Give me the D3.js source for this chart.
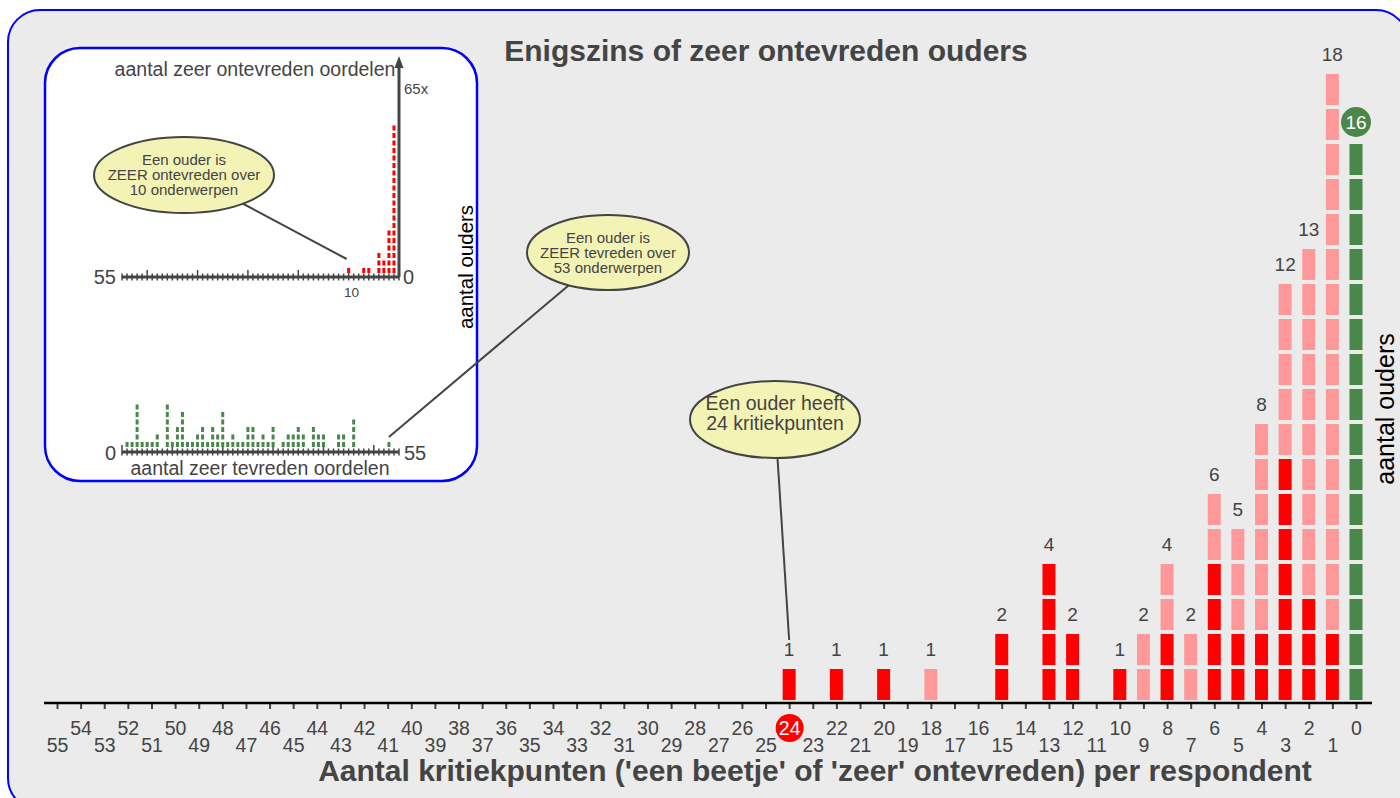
<!DOCTYPE html>
<html>
<head>
<meta charset="utf-8">
<script src="https://cdn.jsdelivr.net/npm/d3@7"></script>
<style>
html, body { margin: 0; padding: 0; background: #fff; }
svg { display: block; font-family: "Liberation Sans", Arial, sans-serif; }
</style>
</head>
<body>
<div id="vis"></div>
<script>
// hoofdgrafiek: aantal kritiekpunten per ouder
var kritiekpunten = [24, 22, 20, 18, 15, 13, 12, 10, 9, 8, 7, 6, 5, 4, 3, 2, 1];
var zeerOntevreden = [1, 1, 1, 0, 2, 4, 2, 1, 0, 2, 0, 4, 2, 2, 7, 3, 2];
var beetjeOntevreden = [0, 0, 0, 1, 0, 0, 0, 0, 2, 2, 2, 2, 3, 6, 5, 10, 16];
var oudersZonderKritiek = 16;
var tickLabels = d3.range(0, 56);

// inzet: zeer ontevreden oordelen (rood)
var zeerOntevredenOordelen = [1, 2, 3, 4, 6, 7, 10];
var oudersOntevreden = [20, 6, 2, 3, 1, 1, 1];
var oudersNulOntevreden = 65;

// inzet: zeer tevreden oordelen (groen), index = aantal oordelen
var oudersZeerTevreden = [0, 1, 1, 6, 1, 1, 1, 2, 0, 6,
                          1, 3, 5, 1, 1, 2, 3, 1, 3, 2,
                          5, 1, 2, 1, 1, 3, 3, 1, 2, 1,
                          3, 0, 1, 2, 2, 3, 2, 0, 3, 2,
                          2, 0, 0, 2, 2, 0, 4, 0, 0, 0,
                          0, 0, 0, 1, 0, 0];

var width = 1400, height = 798;
var RED = '#ff0000', PINK = '#ff9999', GREEN = '#4a874b', TXT = '#444';

var svg = d3.select('#vis').append('svg')
    .attr('width', width)
    .attr('height', height);

svg.append('rect')
    .attr('x', 8).attr('y', 10)
    .attr('width', 1400).attr('height', 800)
    .attr('rx', 32)
    .attr('fill', '#ebebeb')
    .attr('stroke', '#0000ff')
    .attr('stroke-width', 2);

svg.append('text')
    .attr('x', 766).attr('y', 61)
    .attr('text-anchor', 'middle')
    .attr('font-size', 30).attr('font-weight', 'bold')
    .attr('fill', TXT)
    .text('Enigszins of zeer ontevreden ouders');

// ---------- hoofdgrafiek ----------
var x = d3.scaleLinear().domain([55, 0]).range([57, 1356]);
var y = d3.scaleLinear().domain([0, 18]).range([700, 70]);
var barW = 13;

var columns = kritiekpunten.map((v, i) => ({
    v: v,
    total: zeerOntevreden[i] + beetjeOntevreden[i],
    units: d3.range(zeerOntevreden[i] + beetjeOntevreden[i])
        .map(k => ({ v: v, k: k, fill: k < zeerOntevreden[i] ? RED : PINK }))
}));
columns.push({
    v: 0, total: oudersZonderKritiek,
    units: d3.range(oudersZonderKritiek).map(k => ({ v: 0, k: k, fill: GREEN }))
});

var bars = svg.append('g');
bars.selectAll('g')
    .data(columns)
    .enter()
    .append('g')
    .selectAll('rect')
    .data(d => d.units)
    .enter()
    .append('rect')
        .attr('x', d => x(d.v) - barW / 2)
        .attr('y', d => y(d.k + 1) + 4)
        .attr('width', barW)
        .attr('height', d => y(d.k) - y(d.k + 1) - 4)
        .attr('fill', d => d.fill);

bars.selectAll('text.cnt')
    .data(columns.filter(d => d.v !== 0))
    .enter()
    .append('text')
        .attr('class', 'cnt')
        .attr('x', d => x(d.v))
        .attr('y', d => y(d.total) - 9)
        .attr('text-anchor', 'middle')
        .attr('font-size', 19)
        .attr('fill', TXT)
        .text(d => d.total);

svg.append('circle')
    .attr('cx', x(0)).attr('cy', y(oudersZonderKritiek) - 18)
    .attr('r', 15)
    .attr('fill', GREEN);
svg.append('text')
    .attr('x', x(0)).attr('y', y(oudersZonderKritiek) - 11)
    .attr('text-anchor', 'middle')
    .attr('font-size', 19)
    .attr('fill', '#fff')
    .text(oudersZonderKritiek);

// x-as
var axis = svg.append('g')
    .attr('transform', 'translate(0,703)')
    .call(d3.axisBottom(x).tickValues(tickLabels).tickSize(6).tickFormat(d3.format('d')));
axis.select('.domain').remove();
axis.selectAll('.tick line').attr('stroke', TXT).attr('stroke-width', 2);
axis.selectAll('.tick text')
    .attr('y', d => d % 2 === 0 ? 18 : 35)
    .attr('font-size', 19.5)
    .attr('font-family', '"Liberation Sans", Arial, sans-serif')
    .attr('fill', d => d === 24 ? '#fff' : TXT);
axis.selectAll('.tick').filter(d => d === 24)
    .insert('circle', 'text')
    .attr('cx', 0).attr('cy', 25)
    .attr('r', 14)
    .attr('fill', RED);
svg.append('line')
    .attr('x1', 44).attr('x2', 1372)
    .attr('y1', 703).attr('y2', 703)
    .attr('stroke', '#000').attr('stroke-width', 2.5);

svg.append('text')
    .attr('x', 815).attr('y', 781)
    .attr('text-anchor', 'middle')
    .attr('font-size', 30).attr('font-weight', 'bold')
    .attr('fill', TXT)
    .text("Aantal kritiekpunten ('een beetje' of 'zeer' ontevreden) per respondent");

svg.append('text')
    .attr('transform', 'translate(1394,409) rotate(-90)')
    .attr('text-anchor', 'middle')
    .attr('font-size', 25)
    .attr('fill', '#000')
    .text('aantal ouders');

// callout hoofdgrafiek
svg.append('line')
    .attr('x1', 777).attr('y1', 450)
    .attr('x2', x(24)).attr('y2', 640)
    .attr('stroke', TXT).attr('stroke-width', 2);
svg.append('ellipse')
    .attr('cx', 775).attr('cy', 419.5).attr('rx', 85).attr('ry', 38.5)
    .attr('fill', '#f3f3b6').attr('stroke', TXT).attr('stroke-width', 2);
svg.append('text')
    .attr('x', 775).attr('y', 410)
    .attr('text-anchor', 'middle')
    .attr('font-size', 19.5).attr('fill', TXT)
    .selectAll('tspan')
    .data(['Een ouder heeft', '24 kritiekpunten'])
    .enter().append('tspan')
        .attr('x', 775)
        .attr('dy', (d, i) => i ? 19.5 : 0)
        .text(d => d);

// ---------- inzet ----------
var inset = svg.append('g');
inset.append('rect')
    .attr('x', 45).attr('y', 48)
    .attr('width', 432).attr('height', 433)
    .attr('rx', 35)
    .attr('fill', '#fff')
    .attr('stroke', '#0000ff')
    .attr('stroke-width', 2.5);

var xo = d3.scaleLinear().domain([0, 55]).range([399, 122]);
var xt = d3.scaleLinear().domain([0, 55]).range([122, 399]);
var unit = 7.5, dashH = 5, dashW = 3;

function insetAxis(scale, yPos) {
    var g = inset.append('g');
    g.append('line')
        .attr('x1', scale(0)).attr('x2', scale(55))
        .attr('y1', yPos).attr('y2', yPos)
        .attr('stroke', TXT).attr('stroke-width', 3);
    g.selectAll('line.t')
        .data(d3.range(0, 56))
        .enter().append('line')
        .attr('class', 't')
        .attr('x1', d => scale(d)).attr('x2', d => scale(d))
        .attr('y1', d => d % 10 === 0 ? yPos - 7 : yPos - 3.5)
        .attr('y2', yPos + 3.5)
        .attr('stroke', TXT).attr('stroke-width', 1.5);
}
insetAxis(xo, 277);
insetAxis(xt, 452);

// rood
var redUnits = [];
zeerOntevredenOordelen.forEach((v, i) => {
    d3.range(oudersOntevreden[i]).forEach(k => redUnits.push({ v: v, k: k }));
});
inset.selectAll('rect.r')
    .data(redUnits)
    .enter().append('rect')
        .attr('class', 'r')
        .attr('x', d => xo(d.v) - dashW / 2)
        .attr('y', d => 273 - (d.k + 1) * unit + (unit - dashH))
        .attr('width', dashW)
        .attr('height', dashH)
        .attr('fill', RED);

// groen
var greenUnits = [];
oudersZeerTevreden.forEach((n, v) => {
    d3.range(n).forEach(k => greenUnits.push({ v: v, k: k }));
});
inset.selectAll('rect.g')
    .data(greenUnits)
    .enter().append('rect')
        .attr('class', 'g')
        .attr('x', d => xt(d.v) - dashW / 2)
        .attr('y', d => 447 - (d.k + 1) * unit + (unit - dashH))
        .attr('width', dashW)
        .attr('height', dashH)
        .attr('fill', GREEN);

// pijl voor 65x
inset.append('line')
    .attr('x1', xo(0)).attr('x2', xo(0))
    .attr('y1', 277).attr('y2', 64)
    .attr('stroke', TXT).attr('stroke-width', 3);
inset.append('path')
    .attr('d', 'M' + xo(0) + ',56 L' + (xo(0) - 4.5) + ',68 L' + (xo(0) + 4.5) + ',68 Z')
    .attr('fill', TXT);
inset.append('text')
    .attr('x', 404).attr('y', 94)
    .attr('font-size', 15).attr('fill', TXT)
    .text(oudersNulOntevreden + 'x');

inset.append('text')
    .attr('x', 255).attr('y', 76)
    .attr('text-anchor', 'middle')
    .attr('font-size', 19.5).attr('fill', TXT)
    .text('aantal zeer ontevreden oordelen');
inset.append('text')
    .attr('x', 116).attr('y', 284)
    .attr('text-anchor', 'end')
    .attr('font-size', 20).attr('fill', TXT)
    .text('55');
inset.append('text')
    .attr('x', 403).attr('y', 284)
    .attr('font-size', 20).attr('fill', TXT)
    .text('0');
inset.append('text')
    .attr('x', xo(10) + 3).attr('y', 297)
    .attr('text-anchor', 'middle')
    .attr('font-size', 13.5).attr('fill', TXT)
    .text('10');

inset.append('text')
    .attr('x', 116).attr('y', 460)
    .attr('text-anchor', 'end')
    .attr('font-size', 20).attr('fill', TXT)
    .text('0');
inset.append('text')
    .attr('x', 404).attr('y', 460)
    .attr('font-size', 20).attr('fill', TXT)
    .text('55');
inset.append('text')
    .attr('x', 260).attr('y', 475)
    .attr('text-anchor', 'middle')
    .attr('font-size', 19.5).attr('fill', TXT)
    .text('aantal zeer tevreden oordelen');

inset.append('text')
    .attr('transform', 'translate(473,267) rotate(-90)')
    .attr('text-anchor', 'middle')
    .attr('font-size', 20.5)
    .attr('fill', '#000')
    .text('aantal ouders');

// callouts inzet
function callout(cx, cy, rx, ry, lines, x1, y1, x2, y2) {
    svg.append('line')
        .attr('x1', x1).attr('y1', y1).attr('x2', x2).attr('y2', y2)
        .attr('stroke', TXT).attr('stroke-width', 2);
    svg.append('ellipse')
        .attr('cx', cx).attr('cy', cy).attr('rx', rx).attr('ry', ry)
        .attr('fill', '#f3f3b6').attr('stroke', TXT).attr('stroke-width', 2);
    svg.append('text')
        .attr('x', cx).attr('y', cy - 10)
        .attr('text-anchor', 'middle')
        .attr('font-size', 15).attr('fill', TXT)
        .selectAll('tspan')
        .data(lines)
        .enter().append('tspan')
            .attr('x', cx)
            .attr('dy', (d, i) => i ? 15 : 0)
            .text(d => d);
}
callout(184, 175, 90, 38, ['Een ouder is', 'ZEER ontevreden over', '10 onderwerpen'],
        236, 200, xo(10) - 2, 259);
callout(608, 252.5, 81, 37.5, ['Een ouder is', 'ZEER tevreden over', '53 onderwerpen'],
        575, 280, xt(53), 437);
</script>
</body>
</html>
